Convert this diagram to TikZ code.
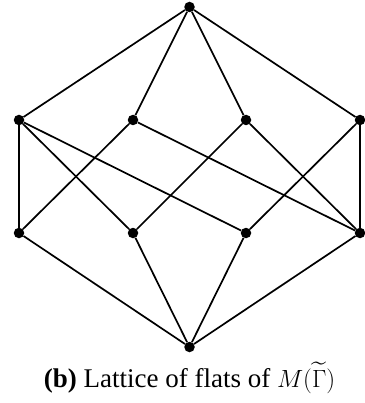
\documentclass[tikz,border=0pt]{standalone}
\usepackage{amsmath, amssymb}
\usepackage{fontspec}
\setmainfont{Liberation Serif}
\usepackage{tikz}
\usetikzlibrary{positioning}
\tikzset{font=\normalsize}
\tikzset{flat/.style={circle, fill=black, inner sep=0pt, minimum size=10.5pt}}
\tikzset{cover/.style={line width=1.7pt}}

\begin{document}
\begin{tikzpicture}[x=1pt, y=-1pt]
  \useasboundingbox (0, 0) rectangle (364, 403); %
  % top and bottom of the lattice
  \node[flat] (top) at (189.5, 7) {}; %
  \node[flat] (bot) at (189.5, 347) {}; %
  % rank two flats
  \node[flat] (a1) at (19, 120) {}; %
  \node[flat] (b1) at (133, 120) {}; %
  \node[flat] (c1) at (246, 120) {}; %
  \node[flat] (d1) at (360, 120) {}; %
  % rank one flats
  \node[flat] (a2) at (19, 233) {}; %
  \node[flat] (b2) at (133, 233) {}; %
  \node[flat] (c2) at (246, 233) {}; %
  \node[flat] (d2) at (360, 233) {}; %
  \foreach \f in {a1, b1, c1, d1} \draw[cover] (top) -- (\f); %
  \foreach \f in {a2, b2, c2, d2} \draw[cover] (bot) -- (\f); %
  \foreach \f/\g in {a1/a2, a1/b2, a1/c2, b1/a2, b1/d2, c1/b2, c1/d2, d1/c2, d1/d2}
    \draw[cover] (\f) -- (\g); %
  \node[anchor=base, font=\fontsize{27}{30}\selectfont] (cap) at (189.5, 387)
    {\textbf{(b)} Lattice of flats of $M(\widetilde{\Gamma})$}; %
\end{tikzpicture}
\end{document}
